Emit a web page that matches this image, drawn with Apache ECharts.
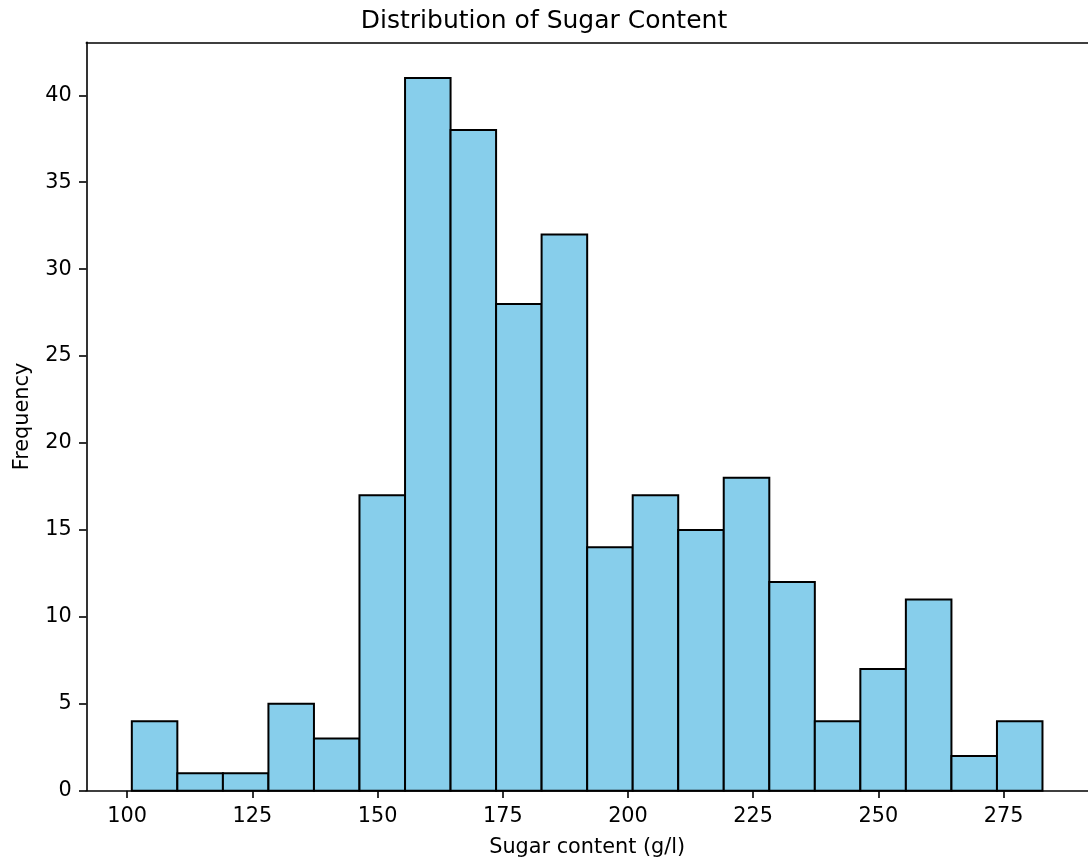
<!DOCTYPE html>
<html>
<head>
<meta charset="utf-8">
<script src="https://cdn.jsdelivr.net/npm/echarts@6/dist/echarts.min.js"></script>
<style>
  html, body { margin: 0; padding: 0; background: #fff; }
  #chart { width: 1088px; height: 864px; }
</style>
</head>
<body>
<div id="chart"></div>
<script>
// Histogram of sugar content: 20 equal-width bins
const binEdges = [100.92, 110.01, 119.11, 128.20, 137.29, 146.38, 155.48, 164.57,
  173.66, 182.75, 191.85, 200.94, 210.03, 219.12, 228.22, 237.31, 246.40,
  255.49, 264.59, 273.68, 282.77];
const counts = [4, 1, 1, 5, 3, 17, 41, 38, 28, 32, 14, 17, 15, 18, 12, 4, 7, 11, 2, 4];
const xTicks = [100, 125, 150, 175, 200, 225, 250, 275];
const yTicks = [0, 5, 10, 15, 20, 25, 30, 35, 40];

const bins = counts.map((c, i) => [binEdges[i], binEdges[i + 1], c]);

const FONT = 'DejaVu Sans';
const X_MIN = 91.83, X_MAX = 291.86, Y_MAX = 43.05;
const spine = { show: true, lineStyle: { color: '#000', width: 1.6 } };
const chart = echarts.init(document.getElementById('chart'), null, { renderer: 'canvas' });

chart.setOption({
  animation: false,
  backgroundColor: '#ffffff',
  title: {
    text: 'Distribution of Sugar Content',
    left: 'center',
    top: 4,
    textStyle: { fontFamily: FONT, fontSize: 25, fontWeight: 'normal', color: '#000' }
  },
  grid: { left: 86.3, top: 42.3, width: 1004, height: 748.4, show: false },
  xAxis: [{
    type: 'value',
    min: X_MIN, max: X_MAX,
    position: 'bottom',
    name: 'Sugar content (g/l)',
    nameLocation: 'middle',
    nameGap: 46,
    nameTextStyle: { fontFamily: FONT, fontSize: 20.8, color: '#000' },
    axisLine: spine,
    splitLine: { show: false },
    axisTick: {
      show: true, inside: false, length: 7.3, customValues: xTicks,
      lineStyle: { color: '#000', width: 1.6 }
    },
    axisLabel: {
      show: true, customValues: xTicks, margin: 15.5,
      fontFamily: FONT, fontSize: 20.8, color: '#000'
    }
  }, {
    // top spine
    type: 'value',
    min: X_MIN, max: X_MAX,
    position: 'top',
    axisLine: spine,
    axisTick: { show: false },
    axisLabel: { show: false },
    splitLine: { show: false }
  }],
  yAxis: {
    type: 'value',
    min: 0, max: Y_MAX,
    name: 'Frequency',
    nameLocation: 'middle',
    nameGap: 53,
    nameTextStyle: { fontFamily: FONT, fontSize: 20.8, color: '#000' },
    axisLine: spine,
    splitLine: { show: false },
    axisTick: {
      show: true, inside: false, length: 7.3, customValues: yTicks,
      lineStyle: { color: '#000', width: 1.6 }
    },
    axisLabel: {
      show: true, customValues: yTicks, margin: 14.6,
      fontFamily: FONT, fontSize: 20.8, color: '#000'
    }
  },
  series: [{
    type: 'custom',
    data: bins,
    encode: { x: [0, 1], y: 2 },
    renderItem: function (params, api) {
      const p0 = api.coord([api.value(0), api.value(2)]);
      const p1 = api.coord([api.value(1), 0]);
      return {
        type: 'rect',
        shape: { x: p0[0], y: p0[1], width: p1[0] - p0[0], height: p1[1] - p0[1] },
        style: { fill: '#87CEEB', stroke: '#000', lineWidth: 2 }
      };
    }
  }]
});
</script>
</body>
</html>
